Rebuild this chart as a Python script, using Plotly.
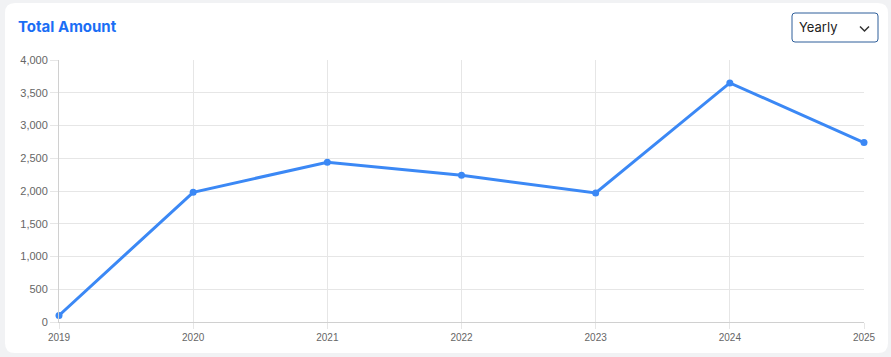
import plotly.graph_objects as go

years = ["2019", "2020", "2021", "2022", "2023", "2024", "2025"]
amounts = [100, 1980, 2440, 2240, 1970, 3650, 2740]
y_ticks = [0, 500, 1000, 1500, 2000, 2500, 3000, 3500, 4000]
y_tick_labels = ["0", "500", "1,000", "1,500", "2,000", "2,500", "3,000", "3,500", "4,000"]

W, H = 891, 357
L, R, T, B = 59, 27, 60, 35
PW, PH = W - L - R, H - T - B

def px(x):
    return (x - L) / PW

def py(y):
    return (H - B - y) / PH

def rounded_rect(x0, y0, x1, y1, r):
    return (f"M {px(x0 + r)},{py(y0)} L {px(x1 - r)},{py(y0)} "
            f"Q {px(x1)},{py(y0)} {px(x1)},{py(y0 + r)} "
            f"L {px(x1)},{py(y1 - r)} Q {px(x1)},{py(y1)} {px(x1 - r)},{py(y1)} "
            f"L {px(x0 + r)},{py(y1)} Q {px(x0)},{py(y1)} {px(x0)},{py(y1 - r)} "
            f"L {px(x0)},{py(y0 + r)} Q {px(x0)},{py(y0)} {px(x0 + r)},{py(y0)} Z")

fig = go.Figure()
fig.add_trace(go.Scatter(
    x=list(range(len(years))), y=amounts, mode="lines+markers",
    line=dict(color="#3b88f5", width=3),
    marker=dict(color="#3b88f5", size=7),
    hoverinfo="x+y",
))

shapes = [
    dict(type="path", xref="paper", yref="paper", layer="below",
         path=rounded_rect(5, 3, 888, 353, 10),
         fillcolor="#ffffff", line=dict(width=0)),
    dict(type="path", xref="paper", yref="paper",
         path=rounded_rect(792, 13, 878, 42, 3),
         fillcolor="#ffffff", line=dict(color="#2f5f9a", width=1)),
    dict(type="path", xref="paper", yref="paper",
         path=f"M {px(860)},{py(26.5)} L {px(864.5)},{py(31)} L {px(869)},{py(26.5)}",
         line=dict(color="#333333", width=1.5)),
]

annotations = [
    dict(text="<b>Total Amount</b>", xref="paper", yref="paper",
         x=px(16), y=py(26.5), xanchor="left", yanchor="middle", showarrow=False,
         font=dict(family="Inter, Roboto, sans-serif", size=15, color="#1a6ef5")),
    dict(text="Yearly", xref="paper", yref="paper",
         x=px(797), y=py(27.5), xanchor="left", yanchor="middle", showarrow=False,
         font=dict(family="Inter, Roboto, sans-serif", size=13, color="#222222")),
]

fig.update_layout(
    width=W, height=H,
    margin=dict(l=L, r=R, t=T, b=B, autoexpand=False),
    paper_bgcolor="#f1f2f4", plot_bgcolor="rgba(0,0,0,0)",
    showlegend=False,
    shapes=shapes, annotations=annotations,
    font=dict(family="Liberation Sans, Arial, sans-serif", color="#666666"),
    xaxis=dict(
        tickmode="array", tickvals=list(range(len(years))), ticktext=years,
        range=[0, len(years) - 1], showgrid=True, gridcolor="#e6e6e6", gridwidth=1,
        showline=True, linecolor="#d0d0d0", linewidth=1,
        ticks="outside", ticklen=6, tickcolor="#e6e6e6",
        tickfont=dict(size=10, color="#666666"), zeroline=False, fixedrange=True,
    ),
    yaxis=dict(
        tickmode="array", tickvals=y_ticks, ticktext=y_tick_labels,
        range=[0, 4000], showgrid=True, gridcolor="#e6e6e6", gridwidth=1,
        showline=True, linecolor="#d0d0d0", linewidth=1,
        ticks="outside", ticklen=8, tickcolor="#e6e6e6",
        tickfont=dict(size=11, color="#666666"), zeroline=False, fixedrange=True,
    ),
)

fig.update_traces(cliponaxis=False)
fig.write_html("out.html", config=dict(displayModeBar=False))
